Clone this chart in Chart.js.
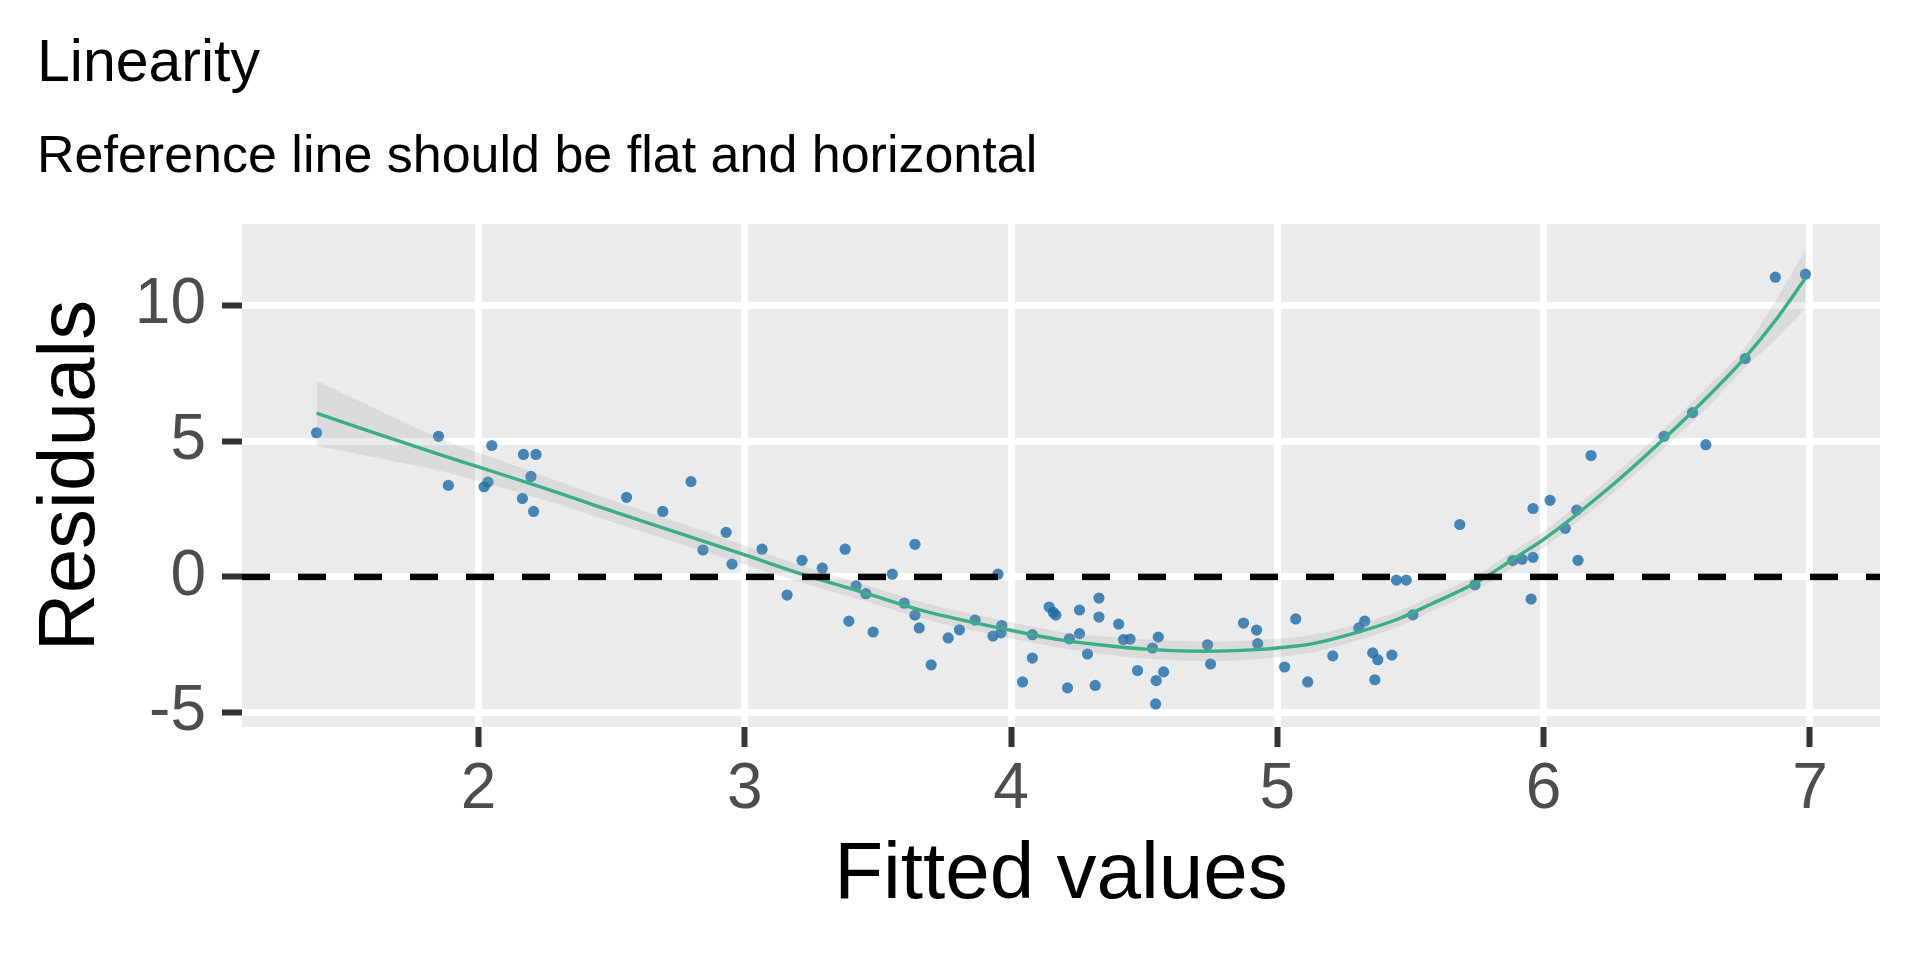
<!DOCTYPE html>
<html><head><meta charset="utf-8">
<script src="https://cdn.jsdelivr.net/npm/chart.js@4.4.1/dist/chart.umd.min.js"></script>
<style>html,body{margin:0;padding:0;background:#fff;overflow:hidden}canvas{display:block}</style>
</head><body>
<canvas id="c" width="1920" height="960"></canvas>
<script>
const titleText = 'Linearity';
const subtitleText = 'Reference line should be flat and horizontal';
const xAxisTitle = 'Fitted values';
const yAxisTitle = 'Residuals';
const xTicks = [2, 3, 4, 5, 6, 7];
const yTicks = [-5, 0, 5, 10];
const referenceLine = 0;

const fittedValues = [
  1.392, 1.850, 1.887, 2.050, 2.021, 2.036, 2.169, 2.216, 2.197, 2.165,
  2.207, 2.556, 2.692, 2.798, 2.930, 2.843, 2.952, 3.065, 3.159, 3.215,
  3.291, 3.377, 3.391, 3.418, 3.455, 3.482, 3.554, 3.599, 3.639, 3.639,
  3.655, 3.700, 3.764, 3.806, 3.865, 3.932, 3.951, 3.965, 3.962, 4.043,
  4.080, 4.080, 4.143, 4.159, 4.168, 4.212, 4.219, 4.257, 4.257, 4.287,
  4.316, 4.330, 4.330, 4.404, 4.422, 4.447, 4.475, 4.531, 4.553, 4.545,
  4.573, 4.543, 4.738, 4.749, 4.873, 4.922, 4.926, 5.027, 5.069, 5.114,
  5.208, 5.306, 5.328, 5.358, 5.377, 5.366, 5.430, 5.447, 5.484, 5.509,
  5.685, 5.742, 5.884, 5.919, 5.960, 5.953, 5.960, 6.024, 6.081, 6.124,
  6.129, 6.178, 6.452, 6.559, 6.609, 6.757, 6.870, 6.983
];
const residuals = [
  5.31, 5.18, 3.37, 4.84, 3.32, 3.49, 4.51, 4.51, 3.70, 2.89,
  2.41, 2.93, 2.41, 3.51, 1.64, 0.99, 0.47, 1.02, -0.67, 0.61,
  0.32, 1.02, -1.63, -0.33, -0.62, -2.03, 0.10, -0.97, 1.20, -1.41,
  -1.88, -3.24, -2.25, -1.95, -1.59, -2.18, 0.10, -1.79, -2.06, -3.87,
  -2.99, -2.13, -1.11, -1.31, -1.41, -4.09, -2.28, -1.22, -2.09, -2.84,
  -4.00, -0.78, -1.48, -1.74, -2.31, -2.29, -3.45, -2.62, -2.22, -3.82,
  -3.50, -4.68, -2.50, -3.21, -1.70, -1.96, -2.46, -3.32, -1.55, -3.87,
  -2.91, -1.88, -1.63, -2.80, -3.05, -3.79, -2.88, -0.12, -0.12, -1.40,
  1.93, -0.29, 0.60, 0.65, 0.72, -0.82, 2.52, 2.82, 1.79, 2.46,
  0.61, 4.47, 5.18, 6.05, 4.87, 8.04, 11.04, 11.15
];

const smoothX = [1.392, 1.612, 1.85, 2.0, 2.25, 2.451, 2.75, 3.0, 3.215, 3.454, 3.679, 4.0, 4.18, 4.33, 4.506, 4.732, 4.919, 5.0, 5.133, 5.283, 5.446, 5.584, 5.747, 5.91, 6.0, 6.236, 6.452, 6.612, 6.757, 6.865, 6.983];
const smoothY = [6.03, 5.30, 4.52, 4.05, 3.26, 2.59, 1.62, 0.81, 0.10, -0.60, -1.27, -1.97, -2.31, -2.50, -2.66, -2.74, -2.68, -2.62, -2.46, -2.09, -1.58, -0.97, -0.21, 0.81, 1.38, 3.20, 5.09, 6.60, 8.09, 9.38, 11.00];
const smoothLower = [4.83, 4.40, 3.92, 3.53, 2.82, 2.19, 1.24, 0.46, -0.22, -0.90, -1.57, -2.27, -2.61, -2.82, -3.01, -3.10, -3.03, -2.96, -2.78, -2.39, -1.86, -1.25, -0.49, 0.51, 1.08, 2.88, 4.74, 6.22, 7.72, 8.68, 9.90];
const smoothUpper = [7.23, 6.20, 5.12, 4.57, 3.70, 2.99, 2.00, 1.16, 0.42, -0.30, -0.97, -1.67, -2.01, -2.18, -2.31, -2.38, -2.33, -2.28, -2.14, -1.79, -1.30, -0.69, 0.07, 1.11, 1.68, 3.52, 5.44, 6.98, 8.46, 10.08, 12.05];

const FONT = '"Liberation Sans", Arial, Helvetica, sans-serif';
const toXY = (xs, ys) => xs.map((x, i) => ({x: x, y: ys[i]}));

const panelBg = {
  id: 'panelBg',
  beforeDraw(chart) {
    const {ctx, chartArea: a} = chart;
    ctx.save();
    ctx.fillStyle = '#EBEBEB';
    ctx.fillRect(a.left, a.top, a.right - a.left, a.bottom - a.top);
    ctx.restore();
  }
};
const hline = {
  id: 'hline',
  afterDatasetsDraw(chart) {
    const {ctx, chartArea: a, scales} = chart;
    const y = scales.y.getPixelForValue(referenceLine);
    ctx.save();
    ctx.beginPath();
    ctx.rect(a.left, a.top, a.right - a.left, a.bottom - a.top);
    ctx.clip();
    ctx.strokeStyle = '#000000';
    ctx.lineWidth = 6.5;
    ctx.setLineDash([28, 28]);
    ctx.lineDashOffset = 0;
    ctx.beginPath();
    ctx.moveTo(a.left, y);
    ctx.lineTo(a.right, y);
    ctx.stroke();
    ctx.restore();
  }
};

new Chart(document.getElementById('c'), {
  type: 'scatter',
  data: {
    datasets: [
      {
        label: 'Residuals',
        data: toXY(fittedValues, residuals),
        backgroundColor: 'rgba(27,108,168,0.8)',
        borderWidth: 0,
        pointRadius: 5.6,
        order: 4
      },
      {
        label: 'lower',
        data: toXY(smoothX, smoothLower),
        showLine: true,
        borderWidth: 0,
        borderColor: 'rgba(0,0,0,0)',
        pointRadius: 0,
        fill: false,
        cubicInterpolationMode: 'monotone',
        order: 3
      },
      {
        label: 'upper',
        data: toXY(smoothX, smoothUpper),
        showLine: true,
        borderWidth: 0,
        borderColor: 'rgba(0,0,0,0)',
        backgroundColor: 'rgba(153,153,153,0.2)',
        pointRadius: 0,
        fill: 1,
        cubicInterpolationMode: 'monotone',
        order: 2
      },
      {
        label: 'smooth',
        data: toXY(smoothX, smoothY),
        showLine: true,
        borderColor: '#3aaf85',
        borderWidth: 3.4,
        pointRadius: 0,
        fill: false,
        cubicInterpolationMode: 'monotone',
        order: 1
      }
    ]
  },
  options: {
    responsive: false,
    devicePixelRatio: 1,
    animation: false,
    events: [],
    layout: {padding: {left: 37, right: 40, top: 0, bottom: 0}},
    plugins: {
      legend: {display: false},
      tooltip: {enabled: false},
      title: {
        display: true, text: titleText, align: 'start', color: '#000000',
        font: {family: FONT, size: 59, weight: 'normal', lineHeight: 1.2},
        padding: {top: 29.5, bottom: 0}
      },
      subtitle: {
        display: true, text: subtitleText, align: 'start', color: '#000000',
        font: {family: FONT, size: 52, weight: 'normal', lineHeight: 1.2},
        padding: {top: 26.1, bottom: 35.2}
      }
    },
    scales: {
      x: {
        type: 'linear',
        min: 1.112, max: 7.263,
        afterBuildTicks: s => { s.ticks = xTicks.map(v => ({value: v})); },
        afterFit: s => { s.height = 233; },
        grid: {color: '#FFFFFF', lineWidth: 7, tickColor: '#333333', tickWidth: 6, tickLength: 20, drawTicks: true},
        border: {display: false},
        ticks: {
          color: '#4D4D4D', font: {family: FONT, size: 64}, padding: 5,
          autoSkip: false, maxRotation: 0, callback: v => String(v)
        },
        title: {
          display: true, text: xAxisTitle, color: '#000000',
          font: {family: FONT, size: 80, weight: 'normal', lineHeight: 1.2},
          padding: {top: 0, bottom: 35.7}
        }
      },
      y: {
        type: 'linear',
        min: -5.53, max: 13.0,
        afterBuildTicks: s => { s.ticks = yTicks.map(v => ({value: v})); },
        afterFit: s => { s.width = 205; },
        grid: {color: '#FFFFFF', lineWidth: 7, tickColor: '#333333', tickWidth: 6, tickLength: 20, drawTicks: true},
        border: {display: false},
        ticks: {
          color: '#4D4D4D', font: {family: FONT, size: 64}, padding: 16,
          autoSkip: false, callback: v => String(v)
        },
        title: {
          display: true, text: yAxisTitle, color: '#000000',
          font: {family: FONT, size: 80, weight: 'normal', lineHeight: 0.8},
          padding: {top: 2.6, bottom: 0}
        }
      }
    }
  },
  plugins: [panelBg, hline]
});
</script>
</body></html>
